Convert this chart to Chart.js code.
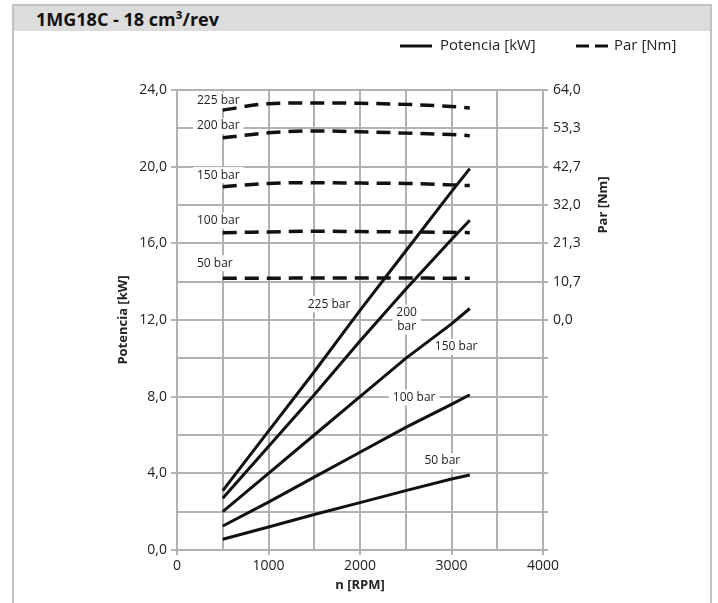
<!DOCTYPE html>
<html>
<head>
<meta charset="utf-8">
<script src="https://cdn.jsdelivr.net/npm/chart.js@4"></script>
<style>
  body { margin: 0; background: #fff; }
  #wrap { position: relative; width: 718px; height: 603px; overflow: hidden; }
  #frame { position: absolute; left: 12px; top: 4px; width: 700px; height: 640px;
           border: 2px solid #c2c2c2; border-bottom: none; box-sizing: border-box; }
  #head { position: absolute; left: 14px; top: 6px; width: 696px; height: 25px;
          background: #dcdcdc; font: bold 18px "Open Sans", sans-serif; color: #111;
          line-height: 27px; padding-left: 22px; box-sizing: border-box; }
  canvas { position: absolute; left: 0; top: 0; }
</style>
</head>
<body>
<div id="wrap">
  <div id="frame"></div>
  <div id="head">1MG18C - 18 cm³/rev</div>
  <canvas id="myChart" width="718" height="603"></canvas>
</div>
<script>
// Speed points (RPM) shared by all curves
const rpm = [500, 1000, 1500, 2000, 2500, 3000, 3200];

// Power curves [kW], one per pressure
const power225 = [3.1, 6.2, 9.3, 12.5, 15.6, 18.7, 19.9];
const power200 = [2.7, 5.4, 8.1, 10.9, 13.6, 16.2, 17.2];
const power150 = [2.0, 4.0, 6.0, 8.0, 10.0, 11.8, 12.6];
const power100 = [1.25, 2.5, 3.8, 5.1, 6.4, 7.6, 8.1];
const power50  = [0.56, 1.2, 1.85, 2.47, 3.1, 3.7, 3.91];

// Torque curves [Nm], one per pressure
const torque225 = [58.4, 60.2, 60.4, 60.3, 60.0, 59.4, 59.0];
const torque200 = [50.7, 52.1, 52.6, 52.4, 52.0, 51.6, 51.3];
const torque150 = [37.1, 38.0, 38.2, 38.1, 38.0, 37.6, 37.4];
const torque100 = [24.3, 24.5, 24.7, 24.6, 24.5, 24.4, 24.3];
const torque50  = [11.6, 11.6, 11.7, 11.7, 11.7, 11.6, 11.6];

// Curve labels, placed in data units (RPM, kW)
const labelText  = ['225 bar', '200 bar', '150 bar', '100 bar', '50 bar',
                    '225 bar', '200\nbar', '150 bar', '100 bar', '50 bar'];
const labelRpm   = [218, 218, 218, 218, 218, 1661, 2510, 3051, 2592, 2900];
const labelKw    = [23.47, 22.12, 19.56, 17.18, 14.96, 12.83, 12.02, 10.6, 7.95, 4.64];
const labelAlign = ['left', 'left', 'left', 'left', 'left',
                    'center', 'center', 'center', 'center', 'center'];

const gridGray = '#b2b2b2';
const textColor = '#222';
const fontFamily = '"Open Sans", sans-serif';

const pts = (ys) => rpm.map((x, i) => ({ x: x, y: ys[i] }));
const fmt = (v) => (Math.abs(v) < 0.01 ? 0 : v).toFixed(1).replace('.', ',');

function powerSet(ys) {
    return { data: pts(ys), yAxisID: 'y', borderColor: '#111', borderWidth: 3,
             pointRadius: 0, fill: false, tension: 0 };
}
function torqueSet(ys) {
    return { data: pts(ys), yAxisID: 'y2', borderColor: '#111', borderWidth: 3.5,
             borderDash: [14, 8], pointRadius: 0, fill: false,
             cubicInterpolationMode: 'monotone' };
}

// Labels with white boxes, drawn under the curves
const curveLabels = {
    id: 'curveLabels',
    beforeDatasetsDraw(chart) {
        const c = chart.ctx, sx = chart.scales.x, sy = chart.scales.y;
        c.save();
        c.font = '12px ' + fontFamily;
        c.textBaseline = 'middle';
        labelText.forEach((t, i) => {
            const lines = t.split('\n');
            const lh = 14;
            const px = sx.getPixelForValue(labelRpm[i]);
            const py = sy.getPixelForValue(labelKw[i]);
            const w = Math.max(...lines.map(l => c.measureText(l).width));
            const h = lines.length * lh;
            const left = labelAlign[i] === 'left' ? px : px - w / 2;
            c.fillStyle = '#fff';
            c.fillRect(left - 4, py - h / 2 - 1, w + 8, h + 2);
            c.fillStyle = textColor;
            c.textAlign = labelAlign[i];
            lines.forEach((l, k) => {
                c.fillText(l, px, py - h / 2 + lh / 2 + k * lh);
            });
        });
        c.restore();
    },
    afterDraw(chart) {
        const c = chart.ctx, a = chart.chartArea, y2 = chart.scales.y2;
        c.save();
        c.fillStyle = textColor;
        c.font = 'bold 13px ' + fontFamily;
        c.textAlign = 'center';
        c.textBaseline = 'middle';
        // x title
        c.fillText('n [RPM]', (a.left + a.right) / 2, 585);
        // left title
        c.save();
        c.translate(123, (a.top + a.bottom) / 2);
        c.rotate(-Math.PI / 2);
        c.fillText('Potencia [kW]', 0, 0);
        c.restore();
        // right title, centred on the labelled part of the torque axis
        c.save();
        c.translate(603, (y2.getPixelForValue(0) + y2.getPixelForValue(64)) / 2);
        c.rotate(-Math.PI / 2);
        c.fillText('Par [Nm]', 0, 0);
        c.restore();
        // legend
        c.strokeStyle = '#111';
        c.lineWidth = 3;
        c.beginPath(); c.moveTo(400, 46); c.lineTo(432, 46); c.stroke();
        c.setLineDash([13, 6]);
        c.beginPath(); c.moveTo(576, 46); c.lineTo(608, 46); c.stroke();
        c.setLineDash([]);
        c.font = '15px ' + fontFamily;
        c.textAlign = 'left';
        c.fillText('Potencia [kW]', 440, 46);
        c.fillText('Par [Nm]', 614, 46);
        c.restore();
    }
};

const ctx = document.getElementById('myChart');

const myChart = new Chart(ctx, {
    type: 'line',
    data: {
        datasets: [
            powerSet(power225), powerSet(power200), powerSet(power150),
            powerSet(power100), powerSet(power50),
            torqueSet(torque225), torqueSet(torque200), torqueSet(torque150),
            torqueSet(torque100), torqueSet(torque50)
        ]
    },
    options: {
        responsive: false,
        animation: false,
        layout: { padding: { top: 90, left: 0, right: 0, bottom: 0 } },
        plugins: { legend: { display: false }, tooltip: { enabled: false } },
        scales: {
            x: {
                type: 'linear', min: 0, max: 4000,
                ticks: { stepSize: 500, autoSkip: false, maxRotation: 0, padding: 3,
                         color: textColor, font: { size: 14, family: fontFamily },
                         callback: v => (v % 1000 === 0 ? String(v) : '') },
                grid: { color: gridGray, lineWidth: 2, tickLength: 5,
                        tickColor: c => (c.tick && c.tick.value % 1000 === 0 ? gridGray : 'rgba(0,0,0,0)') },
                border: { color: gridGray, width: 2 },
                afterFit: s => { s.height = 53; }
            },
            y: {
                position: 'left', min: 0, max: 24,
                ticks: { stepSize: 2, autoSkip: false, padding: 4,
                         color: textColor, font: { size: 14, family: fontFamily },
                         callback: v => (v % 4 === 0 ? fmt(v) : '') },
                grid: { color: gridGray, lineWidth: 2, tickLength: 6,
                        tickColor: c => (c.tick && c.tick.value % 4 === 0 ? gridGray : 'rgba(0,0,0,0)') },
                border: { color: gridGray, width: 2 },
                afterFit: s => { s.width = 177; }
            },
            y2: {
                position: 'right', min: -64, max: 64,
                ticks: { stepSize: 64 / 6, autoSkip: false, padding: 5,
                         color: textColor, font: { size: 14, family: fontFamily },
                         callback: v => (v > -0.01 ? fmt(v) : '') },
                grid: { drawOnChartArea: false, color: gridGray, lineWidth: 2, tickLength: 5 },
                border: { display: false },
                afterFit: s => { s.width = 175; }
            }
        }
    },
    plugins: [curveLabels]
});
</script>
</body>
</html>
